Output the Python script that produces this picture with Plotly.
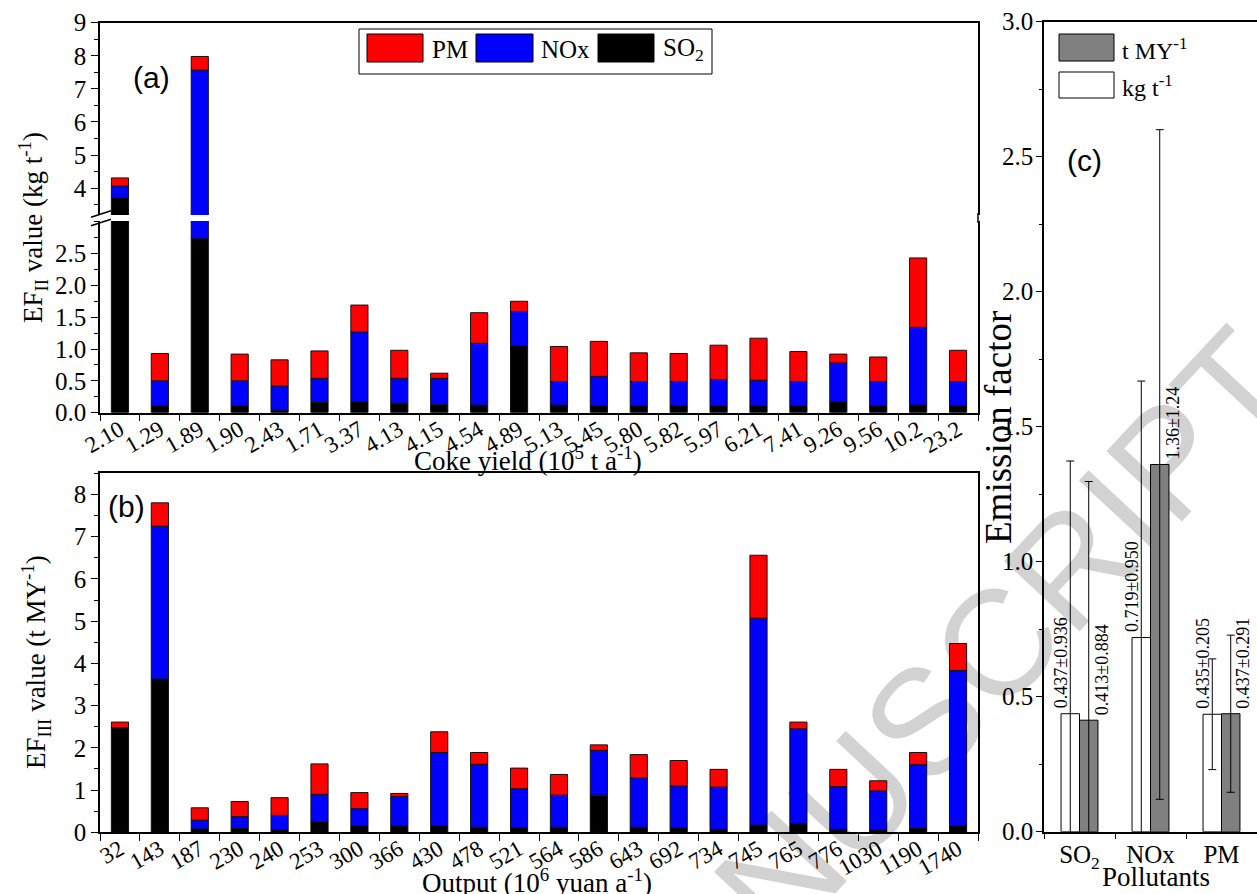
import numpy as np
import plotly.graph_objects as go

# ---------------- data ----------------
coke_yield = ["2.10", "1.29", "1.89", "1.90", "2.43", "1.71", "3.37", "4.13", "4.15", "4.54", "4.89",
              "5.13", "5.45", "5.80", "5.82", "5.97", "6.21", "7.41", "9.26", "9.56", "10.2", "23.2"]
ef2_so2 = [3.71, 0.11, 2.73, 0.11, 0.04, 0.16, 0.17, 0.15, 0.125, 0.12, 1.05,
           0.12, 0.11, 0.11, 0.11, 0.11, 0.11, 0.11, 0.17, 0.11, 0.12, 0.11]
ef2_nox = [0.36, 0.39, 4.84, 0.39, 0.38, 0.38, 1.10, 0.39, 0.415, 0.97, 0.54,
           0.37, 0.46, 0.38, 0.38, 0.41, 0.40, 0.38, 0.61, 0.38, 1.22, 0.38]
ef2_pm = [0.24, 0.43, 0.41, 0.42, 0.41, 0.43, 0.42, 0.44, 0.08, 0.48, 0.16,
          0.55, 0.55, 0.45, 0.44, 0.54, 0.66, 0.47, 0.14, 0.385, 1.09, 0.49]

output_value = ["32", "143", "187", "230", "240", "253", "300", "366", "430", "478", "521",
                "564", "586", "643", "692", "734", "745", "765", "776", "1030", "1190", "1740"]
ef3_so2 = [2.48, 3.63, 0.08, 0.09, 0.06, 0.25, 0.15, 0.15, 0.15, 0.12, 0.11,
           0.12, 0.88, 0.12, 0.10, 0.07, 0.17, 0.21, 0.07, 0.055, 0.09, 0.15]
ef3_nox = [0.0, 3.62, 0.21, 0.28, 0.34, 0.65, 0.41, 0.70, 1.74, 1.49, 0.92,
           0.76, 1.06, 1.17, 1.00, 1.00, 4.90, 2.24, 1.01, 0.925, 1.51, 3.68]
ef3_pm = [0.13, 0.55, 0.29, 0.36, 0.42, 0.72, 0.38, 0.07, 0.49, 0.28, 0.49,
          0.49, 0.13, 0.55, 0.60, 0.42, 1.49, 0.16, 0.41, 0.24, 0.29, 0.64]

pollutants = ["SO<sub>2</sub>", "NOx", "PM"]
ef_kg_mean = [0.437, 0.719, 0.435]
ef_kg_sd = [0.936, 0.950, 0.205]
ef_t_mean = [0.413, 1.36, 0.437]
ef_t_sd = [0.884, 1.24, 0.291]

# ---------------- helpers ----------------
W, H = 1257, 894
def px(x): return x / W
def py(y): return 1 - y / H

SERIF = "Liberation Serif"
SANS = "Liberation Sans"
RED, BLUE, BLACK, GREY = "#FF0000", "#0000FF", "#000000", "#808080"

fig = go.Figure()

def add_stack(cats, so2, nox, pm, xa, ya):
    so2 = np.array(so2); nox = np.array(nox); pm = np.array(pm)
    for vals, base, col, name in [(so2, np.zeros_like(so2), BLACK, "SO2"),
                                   (nox, so2, BLUE, "NOx"),
                                   (pm, so2 + nox, RED, "PM")]:
        fig.add_trace(go.Bar(x=cats, y=vals, base=base, width=0.43, name=name,
                             marker=dict(color=col, line=dict(color="#111111", width=1)),
                             xaxis=xa, yaxis=ya, showlegend=False))

add_stack(coke_yield, ef2_so2, ef2_nox, ef2_pm, "x", "y")
add_stack(coke_yield, ef2_so2, ef2_nox, ef2_pm, "x2", "y2")
add_stack(output_value, ef3_so2, ef3_nox, ef3_pm, "x3", "y3")

# panel (c)
fig.add_trace(go.Bar(x=pollutants, y=ef_kg_mean, width=0.26, offset=-0.26, name="kg t-1",
                     marker=dict(color="white", line=dict(color="black", width=1)),
                     error_y=dict(type="data", array=ef_kg_sd, color="black", thickness=1, width=4),
                     xaxis="x4", yaxis="y4", showlegend=False))
fig.add_trace(go.Bar(x=pollutants, y=ef_t_mean, width=0.26, offset=0.0, name="t MY-1",
                     marker=dict(color=GREY, line=dict(color="black", width=1)),
                     error_y=dict(type="data", array=ef_t_sd, color="black", thickness=1, width=4),
                     xaxis="x4", yaxis="y4", showlegend=False))

tickfont = dict(family=SERIF, size=25, color="black")
xtickfont = dict(family=SERIF, size=23, color="black")
common_line = dict(showline=True, linecolor="black", linewidth=1.5, showgrid=False,
                   zeroline=False, automargin=False)
xdom = [px(100), px(978)]

fig.update_layout(
    width=W, height=H, margin=dict(l=0, r=0, t=0, b=0),
    template="none", barmode="overlay",
    font=dict(family=SERIF, color="black"),
    paper_bgcolor="white", plot_bgcolor="rgba(0,0,0,0)",
    showlegend=False,
    xaxis=dict(domain=xdom, anchor="y", type="category", range=[-0.5, 21.5],
               tickson="boundaries", ticks="outside", ticklen=7, tickcolor="black",
               tickangle=-30, tickfont=xtickfont, ticklabelstandoff=-7, **common_line),
    yaxis=dict(domain=[py(412.7), py(221)], anchor="x", range=[0, 3.01],
               tickvals=[0, 0.5, 1.0, 1.5, 2.0, 2.5], tickformat=".1f",
               ticks="outside", ticklen=7, tickcolor="black", tickfont=tickfont, mirror=True,
               minor=dict(dtick=0.25, tick0=0, ticks="outside", ticklen=4, tickcolor="black"),
               **common_line),
    xaxis2=dict(domain=xdom, anchor="y2", side="top", type="category", range=[-0.5, 21.5],
                showticklabels=False, ticks="", **common_line),
    yaxis2=dict(domain=[py(215), py(22.7)], anchor="x2", range=[3.19, 9],
                tickvals=[4, 5, 6, 7, 8, 9], ticks="outside", ticklen=7, tickcolor="black",
                tickfont=tickfont, mirror=True,
                minor=dict(dtick=0.5, tick0=0, ticks="outside", ticklen=4, tickcolor="black"),
                **common_line),
    xaxis3=dict(domain=xdom, anchor="y3", type="category", range=[-0.5, 21.5],
                tickson="boundaries", ticks="outside", ticklen=7, tickcolor="black",
                tickangle=-30, tickfont=xtickfont, ticklabelstandoff=-7, mirror=True, **common_line),
    yaxis3=dict(domain=[py(832.3), py(473.3)], anchor="x3", range=[0, 8.5],
                tickvals=list(range(0, 9)), ticks="outside", ticklen=7, tickcolor="black",
                tickfont=tickfont, mirror=True,
                minor=dict(dtick=0.5, tick0=0, ticks="outside", ticklen=4, tickcolor="black"),
                **common_line),
    xaxis4=dict(domain=[px(1044), 1.0], anchor="y4", type="category", range=[-0.5, 2.5],
                tickson="boundaries", ticks="outside", ticklen=6, tickcolor="black",
                tickfont=dict(family=SERIF, size=25, color="black"), mirror=True, **common_line),
    yaxis4=dict(domain=[py(831.7), py(21.7)], anchor="x4", range=[0, 3.0],
                dtick=0.5, tick0=0, tickformat=".1f", ticks="outside", ticklen=6, tickcolor="black",
                tickfont=tickfont, ticklabelstandoff=-2,
                minor=dict(dtick=0.25, tick0=0, ticks="outside", ticklen=3, tickcolor="black"),
                **common_line),
)

ann = []
def A(x, y, text, size, family=SERIF, angle=0, xanchor="center", yanchor="middle", **kw):
    d = dict(x=x, y=y, xref="paper", yref="paper", text=text, showarrow=False,
             xanchor=xanchor, yanchor=yanchor,
             textangle=angle, font=dict(family=family, size=size, color="black"))
    d.update(kw)
    ann.append(d)

# axis titles
A(px(33), py(228), "EF<sub>II</sub> value (kg t<sup>-1</sup>)", 27, angle=-90)
A(px(36), py(662), "EF<sub>III</sub> value (t MY<sup>-1</sup>)", 27, angle=-90)
A(px(528), py(459), "Coke yield (10<sup>5</sup> t a<sup>-1</sup>)", 27)
A(px(537), py(881), "Output (10<sup>6</sup> yuan a<sup>-1</sup>)", 27)
A(px(1156), py(877), "Pollutants", 27)
A(px(998), py(428), "Emission factor", 37, angle=-90)
# panel letters
A(px(151), py(78), "(a)", 30, family=SANS)
A(px(126), py(506), "(b)", 30, family=SANS)
A(px(1084), py(160), "(c)", 30, family=SANS)

# value labels in (c)
for i, (m, s) in enumerate(zip(ef_kg_mean, ef_kg_sd)):
    ann.append(dict(x=i - 0.26, y=m, xref="x4", yref="y4", text=f"{m:.3f}±{s:.3f}",
                    showarrow=False, textangle=-90, yanchor="bottom", xanchor="center",
                    yshift=3, font=dict(family=SERIF, size=18, color="black")))
for i, (m, s) in enumerate(zip(ef_t_mean, ef_t_sd)):
    txt = f"{m:.3f}±{s:.3f}" if m < 1 else f"{m:.2f}±{s:.2f}"
    ann.append(dict(x=i + 0.31, y=m, xref="x4", yref="y4", text=txt,
                    showarrow=False, textangle=-90, yanchor="bottom", xanchor="center",
                    yshift=3, font=dict(family=SERIF, size=18, color="black")))

shapes = []
# legend (a)
shapes.append(dict(type="rect", xref="paper", yref="paper", x0=px(359), x1=px(712), y0=py(74), y1=py(29),
                   line=dict(color="black", width=1), fillcolor="white"))
for x0, x1, col, lab, tx in [(367, 423, RED, "PM", 430), (476, 533, BLUE, "NOx", 539),
                              (598, 654, BLACK, "SO<sub>2</sub>", 661)]:
    shapes.append(dict(type="rect", xref="paper", yref="paper", x0=px(x0), x1=px(x1), y0=py(62), y1=py(34),
                       line=dict(color="black", width=1), fillcolor=col))
    A(px(tx), py(50), lab, 25, xanchor="left")
# legend (c)
for y0, y1, col, lab in [(34, 61, GREY, "t MY<sup>-1</sup>"), (72, 98, "white", "kg t<sup>-1</sup>")]:
    shapes.append(dict(type="rect", xref="paper", yref="paper", x0=px(1059), x1=px(1114), y0=py(y1), y1=py(y0),
                       line=dict(color="black", width=1), fillcolor=col))
    A(px(1120), py((y0 + y1) / 2 + 1), lab, 24, xanchor="left")
# axis break marks on (a) and continuous right border
for yy in (0, 8.5):
    shapes.append(dict(type="line", xref="paper", yref="paper", x0=px(91), x1=px(111),
                       y0=py(217.3 + yy), y1=py(210.7 + yy), line=dict(color="black", width=1.5)))
shapes.append(dict(type="line", xref="paper", yref="paper", x0=xdom[1], x1=xdom[1],
                   y0=py(223), y1=py(213), line=dict(color="black", width=1.5)))
# watermark (behind)
cx, cy = 625, 1022
shapes.append(dict(type="rect", xref="paper", yref="paper", layer="below",
                   x0=px(cx) - 0.3, x1=px(cx) + 0.3, y0=py(cy) - 0.3, y1=py(cy) + 0.3,
                   line=dict(width=0), fillcolor="rgba(0,0,0,0)",
                   label=dict(text="ACCEPTED MANUSCRIPT", textangle=-47, textposition="middle center",
                              font=dict(family=SANS, size=150, color="#d2d2d2"))))

fig.update_layout(annotations=ann, shapes=shapes)
fig.write_html("out.html")
